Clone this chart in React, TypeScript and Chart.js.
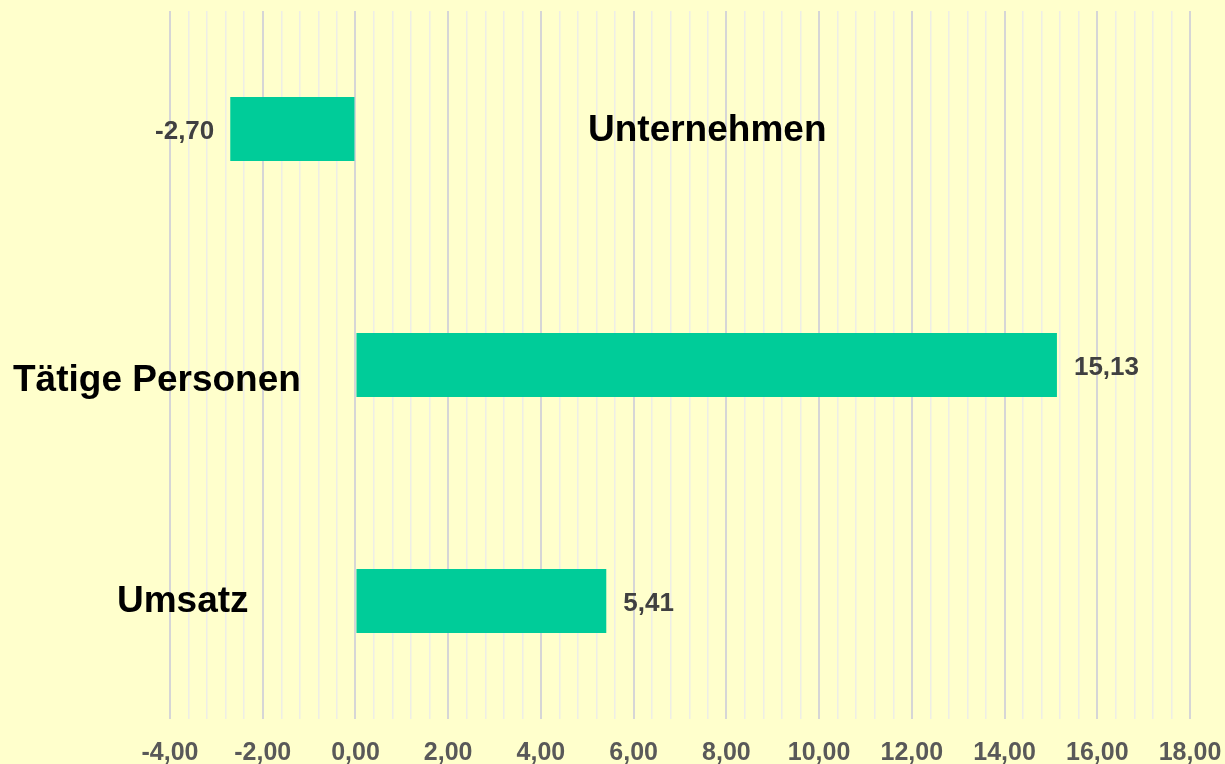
import React, { useEffect, useRef } from "react";
import { Chart, registerables } from "chart.js";

Chart.register(...registerables);

const categories: string[] = ["Unternehmen", "Tätige Personen", "Umsatz"];
const values: number[] = [-2.7, 15.13, 5.41];
const axisMin = -4;
const axisMax = 18;
const majorStep = 2;
const minorStep = 0.4;

const FONT = '"Liberation Sans", Arial, Helvetica, sans-serif';
const BG = "#FFFFCC";
const BAR = "#00CC99";

const fmt = (v: number) => v.toFixed(2).replace(".", ",");

const isMajor = (v: number) => Math.abs(v / majorStep - Math.round(v / majorStep)) < 1e-6;

export default function App() {
  const ref = useRef<HTMLCanvasElement | null>(null);

  useEffect(() => {
    if (!ref.current) return;

    const bgPlugin = {
      id: "bgFill",
      beforeDraw(chart: any) {
        const { ctx, width, height } = chart;
        ctx.save();
        ctx.fillStyle = BG;
        ctx.fillRect(0, 0, width, height);
        ctx.restore();
      },
    };

    // Category label layout (text-left x in px, y offset from bar centre)
    const catLabelLeft = [588, 13, 117];
    const catLabelDy = [2, 16, 1];

    const labelPlugin = {
      id: "labels",
      afterDatasetsDraw(chart: any) {
        const { ctx } = chart;
        const meta = chart.getDatasetMeta(0);
        const yScale = chart.scales.y;
        ctx.save();
        // value labels
        ctx.font = `bold 26px ${FONT}`;
        ctx.fillStyle = "#404040";
        ctx.textBaseline = "middle";
        meta.data.forEach((bar: any, i: number) => {
          const v = values[i];
          const y = bar.y + 3;
          if (v < 0) {
            ctx.textAlign = "right";
            ctx.fillText(fmt(v), bar.x - 16, y);
          } else {
            ctx.textAlign = "left";
            ctx.fillText(fmt(v), bar.x + 17, y);
          }
        });
        // category labels
        ctx.font = `bold 37px ${FONT}`;
        ctx.fillStyle = "#000000";
        ctx.textAlign = "left";
        categories.forEach((c, i) => {
          const y = yScale.getPixelForValue(i) + catLabelDy[i];
          ctx.fillText(c, catLabelLeft[i], y);
        });
        ctx.restore();
      },
    };

    const chart = new Chart(ref.current, {
      type: "bar",
      data: {
        labels: categories,
        datasets: [
          {
            data: values,
            backgroundColor: BAR,
            borderWidth: 0,
            categoryPercentage: 1,
            barPercentage: 0.271,
          },
        ],
      },
      options: {
        indexAxis: "y",
        animation: false,
        responsive: false,
        maintainAspectRatio: false,
        layout: { padding: { left: 170, right: 35, top: 11, bottom: 0 } },
        plugins: {
          legend: { display: false },
          tooltip: { enabled: false },
        },
        scales: {
          x: {
            type: "linear",
            min: axisMin,
            max: axisMax,
            border: { display: false },
            afterFit: (scale: any) => {
              scale.height = 45;
              scale.paddingLeft = 0;
              scale.paddingRight = 0;
            },
            grid: {
              drawTicks: false,
              tickLength: 0,
              color: (ctx: any) => (isMajor(ctx.tick?.value ?? 0) ? "#d6d6d6" : "#eeeee6"),
              lineWidth: (ctx: any) => (isMajor(ctx.tick?.value ?? 0) ? 2 : 1.5),
            },
            ticks: {
              stepSize: minorStep,
              autoSkip: false,
              maxRotation: 0,
              minRotation: 0,
              padding: 22,
              color: "#595959",
              font: { family: FONT, size: 25, weight: "bold", lineHeight: 1 },
              callback: (v: any) => (isMajor(Number(v)) ? fmt(Number(v)) : ""),
            },
          },
          y: {
            type: "category",
            display: false,
            offset: true,
            grid: { display: false },
          },
        },
      },
      plugins: [bgPlugin, labelPlugin],
    } as any);

    return () => chart.destroy();
  }, []);

  return (
    <div style={{ position: "fixed", left: 0, top: 0, width: 1225, height: 764, background: BG }}>
      <canvas ref={ref} width={1225} height={764} style={{ display: "block" }} />
    </div>
  );
}
